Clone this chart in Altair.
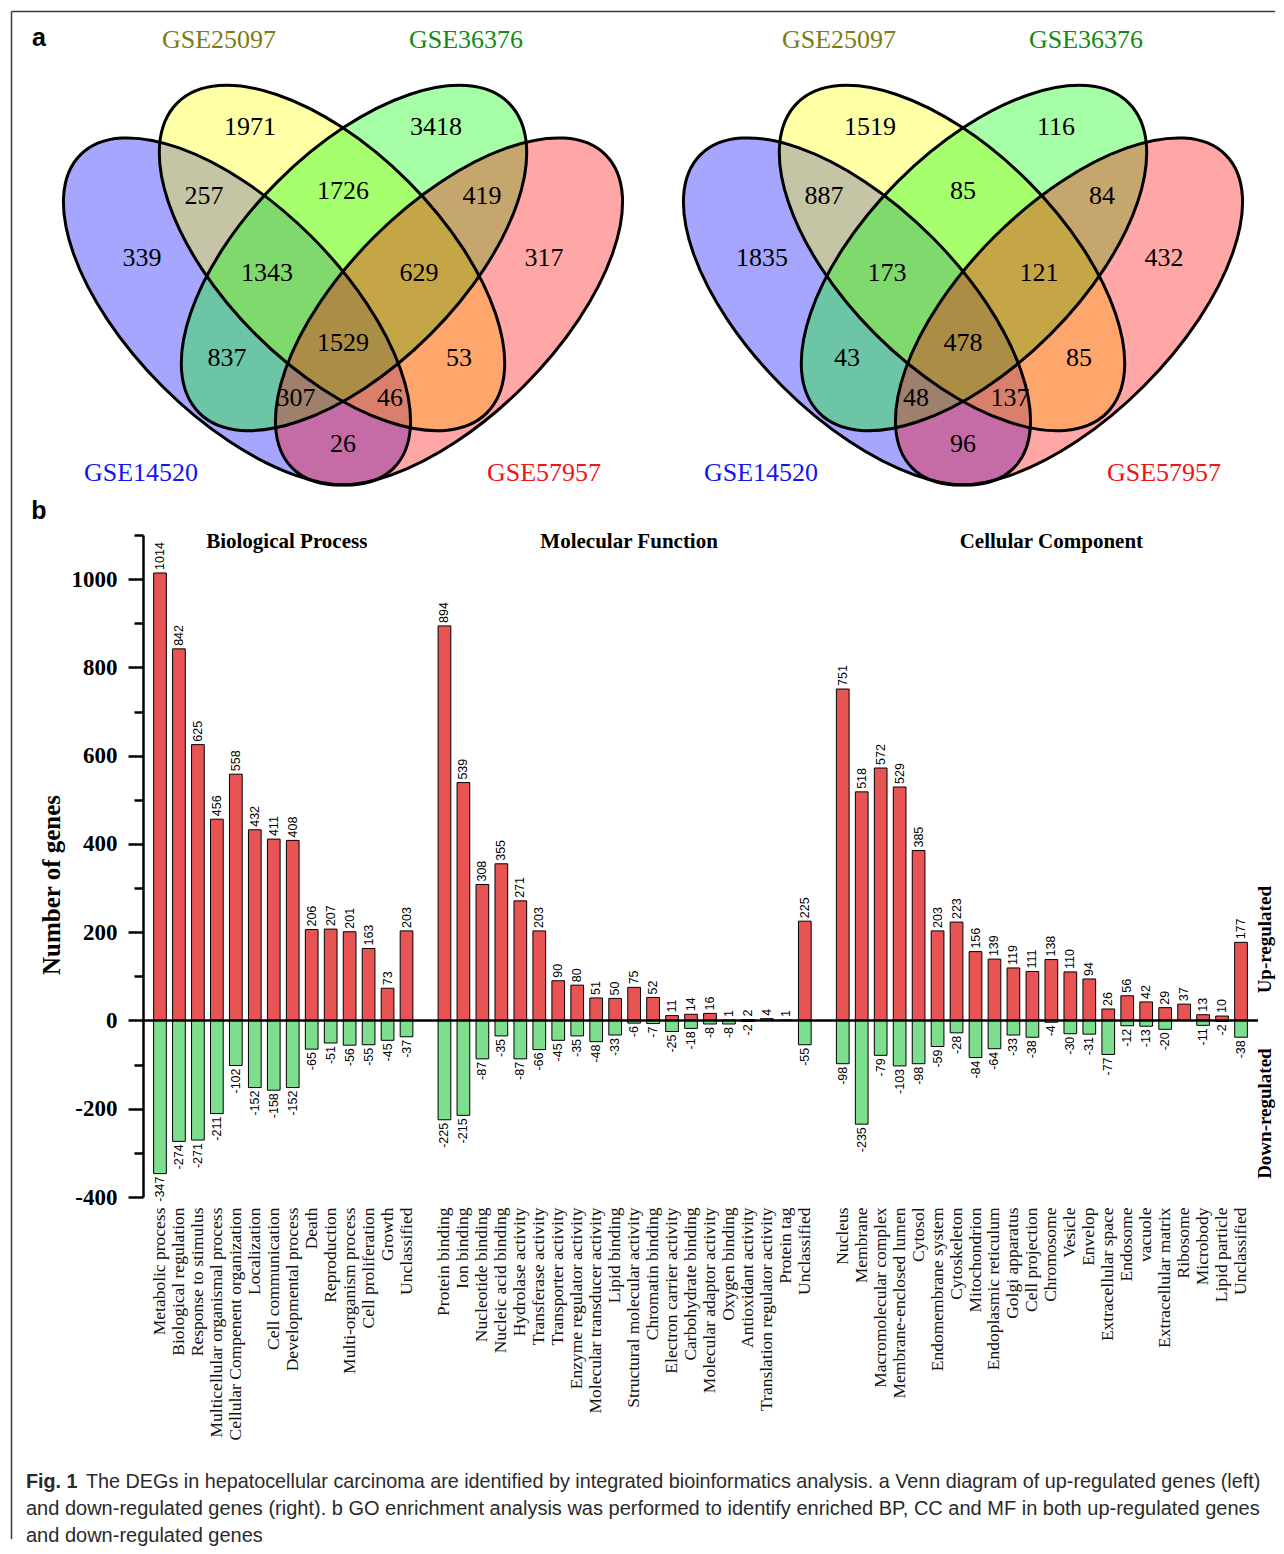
import altair as alt
import pandas as pd

# ---------------- panel a : Venn diagrams ----------------
set_names = ["GSE14520", "GSE25097", "GSE36376", "GSE57957"]
set_label_colors = ["#1414f0", "#7c7c14", "#128a12", "#f01414"]
set_fill_colors = ["#0000ff", "#ffff00", "#00ff00", "#ff0000"]

# regions (A=GSE14520, B=GSE25097, C=GSE36376, D=GSE57957)
region_sets = ["B", "C", "AB", "BC", "CD", "A", "ABC", "BCD", "D",
               "AC", "ABCD", "BD", "ACD", "ABD", "AD"]
up_counts = [1971, 3418, 257, 1726, 419, 339, 1343, 629, 317,
             837, 1529, 53, 307, 46, 26]
down_counts = [1519, 116, 887, 85, 84, 1835, 173, 121, 432,
               43, 478, 85, 48, 137, 96]

# Venn geometry (unit-square coordinates of one diagram)
ell_u = [0.3304, 0.4824, 0.5176, 0.6696]
ell_v = [0.4664, 0.552, 0.552, 0.4664]
ell_a = [0.3544, 0.3504, 0.3504, 0.3544]
ell_b = [0.169, 0.1728, 0.1728, 0.169]
ell_angle = [45, 45, 135, 135]
reg_u = [0.3512, 0.6488, 0.2776, 0.5, 0.7224, 0.1784, 0.3784, 0.6216, 0.8216,
         0.3144, 0.5, 0.6856, 0.4248, 0.5752, 0.5]
reg_v = [0.7616, 0.7616, 0.6512, 0.6592, 0.6512, 0.552, 0.528, 0.528, 0.552,
         0.392, 0.416, 0.392, 0.328, 0.328, 0.2544]
set_lab_u = [0.1768, 0.3016, 0.6968, 0.8216]
set_lab_v = [0.208, 0.9008, 0.9008, 0.208]
panel_shift = [0.0, 0.992]   # second diagram sits one diagram-width to the right

# ---------------- panel b : GO enrichment ----------------
bp_names = ["Metabolic process", "Biological regulation", "Response to stimulus",
            "Multicellular organismal process", "Cellular Compenent organization",
            "Localization", "Cell communication", "Developmental process", "Death",
            "Reproduction", "Multi-organism process", "Cell proliferation", "Growth",
            "Unclassified"]
bp_up = [1014, 842, 625, 456, 558, 432, 411, 408, 206, 207, 201, 163, 73, 203]
bp_down = [-347, -274, -271, -211, -102, -152, -158, -152, -65, -51, -56, -55, -45, -37]

mf_names = ["Protein binding", "Ion binding", "Nucleotide binding", "Nucleic acid binding",
            "Hydrolase activity", "Transferase activity", "Transporter activity",
            "Enzyme regulator activity", "Molecular transducer activity", "Lipid binding",
            "Structural molecular activity", "Chromatin binding", "Electron carrier activity",
            "Carbohydrate binding", "Molecular adaptor activity", "Oxygen binding",
            "Antioxidant activity", "Translation regulator activity", "Protein tag",
            "Unclassified"]
mf_up = [894, 539, 308, 355, 271, 203, 90, 80, 51, 50, 75, 52, 11, 14, 16, 1, 2, 4, 1, 225]
mf_down = [-225, -215, -87, -35, -87, -66, -45, -35, -48, -33, -6, -7, -25, -18, -8, -8, -2, 0, 0, -55]

cc_names = ["Nucleus", "Membrane", "Macromolecular complex", "Membrane-enclosed lumen",
            "Cytosol", "Endomembrane system", "Cytoskeleton", "Mitochondrion",
            "Endoplasmic reticulum", "Golgi apparatus", "Cell projection", "Chromosome",
            "Vesicle", "Envelop", "Extracellular space", "Endosome", "vacuole",
            "Extracellular matrix", "Ribosome", "Microbody", "Lipid particle", "Unclassified"]
cc_up = [751, 518, 572, 529, 385, 203, 223, 156, 139, 119, 111, 138, 110, 94, 26, 56, 42,
         29, 37, 13, 10, 177]
cc_down = [-98, -235, -79, -103, -98, -59, -28, -84, -64, -33, -38, -4, -30, -31, -77, -12,
           -13, -20, 0, -11, -2, -38]

group_titles = ["Biological Process", "Molecular Function", "Cellular Component"]
side_labels = ["Up-regulated", "Down-regulated"]

caption_fig = "Fig. 1"
caption_lines = [
    "The DEGs in hepatocellular carcinoma are identified by integrated bioinformatics analysis. a Venn diagram of up-regulated genes (left)",
    "and down-regulated genes (right). b GO enrichment analysis was performed to identify enriched BP, CC and MF in both up-regulated genes",
    "and down-regulated genes",
]

RED = "#e85454"
GREEN = "#7ddf8e"
SERIF = "Liberation Serif"
SANS = "Liberation Sans"

# ---------------- Venn construction ----------------
S = 625.0
VENN_W, VENN_H = 1240, 513.5
U_DOM = [-0.012, -0.012 + VENN_W / S]
V_DOM = [0.1096, 0.1096 + VENN_H / S]


def ellipse_path(r):
    k = 0.5523
    kr = k * r
    return (f"M1,0 C1,{kr:.4f} {k},{r:.4f} 0,{r:.4f} "
            f"C{-k},{r:.4f} -1,{kr:.4f} -1,0 "
            f"C-1,{-kr:.4f} {-k},{-r:.4f} 0,{-r:.4f} "
            f"C{k},{-r:.4f} 1,{-kr:.4f} 1,0 Z")


ell_rows, reg_rows, set_rows = [], [], []
for p, (shift, counts) in enumerate(zip(panel_shift, [up_counts, down_counts])):
    for i in range(4):
        ell_rows.append({"idx": p * 4 + i, "u": ell_u[i] + shift, "v": ell_v[i],
                         "path": ellipse_path(ell_b[i] / ell_a[i]),
                         "size": (2 * ell_a[i] * S) ** 2, "angle": ell_angle[i],
                         "fill": set_fill_colors[i]})
        set_rows.append({"u": set_lab_u[i] + shift, "v": set_lab_v[i],
                         "name": set_names[i], "col": set_label_colors[i]})
    for j in range(len(region_sets)):
        reg_rows.append({"u": reg_u[j] + shift, "v": reg_v[j], "n": str(counts[j])})
ell_df = pd.DataFrame(ell_rows)
reg_df = pd.DataFrame(reg_rows)
set_df = pd.DataFrame(set_rows)

vx = alt.X("u:Q", scale=alt.Scale(domain=U_DOM, nice=False, zero=False), axis=None)
vy = alt.Y("v:Q", scale=alt.Scale(domain=V_DOM, nice=False, zero=False), axis=None)
ell_common = dict(
    shape=alt.Shape("path:N", scale=None),
    size=alt.Size("size:Q", scale=None),
    angle=alt.Angle("angle:Q", scale=None),
    order=alt.Order("idx:Q"),
)
fills = alt.Chart(ell_df).mark_point(filled=True, opacity=0.35, strokeWidth=0).encode(
    x=vx, y=vy, color=alt.Color("fill:N", scale=None), **ell_common)
strokes = alt.Chart(ell_df).mark_point(filled=False, opacity=1, strokeWidth=3).encode(
    x=vx, y=vy, color=alt.value("black"), **ell_common)
nums = alt.Chart(reg_df).mark_text(font=SERIF, fontSize=26, color="black",
                                   align="center", baseline="middle").encode(
    x=vx, y=vy, text="n:N")
names = alt.Chart(set_df).mark_text(font=SERIF, fontSize=26, align="center",
                                    baseline="middle").encode(
    x=vx, y=vy, text="name:N", color=alt.Color("col:N", scale=None))
letters_df = pd.DataFrame({"u": [0.0136, 0.0136], "v": [0.904, 0.1472], "t": ["a", "b"]})
letters = alt.Chart(letters_df).mark_text(font=SANS, fontSize=25, fontWeight="bold",
                                          color="black", align="center",
                                          baseline="middle").encode(
    x=vx, y=vy, text="t:N")
one = pd.DataFrame({"d": [0]})
frame_top = alt.Chart(one).mark_rule(color="#3a3a3a", strokeWidth=1.5).encode(
    x=alt.value(-11.5), x2=alt.value(1252), y=alt.value(-9.5))
frame_left = alt.Chart(one).mark_rule(color="#3a3a3a", strokeWidth=1.5).encode(
    x=alt.value(-11.5), y=alt.value(-9.5), y2=alt.value(1518))
venn = alt.layer(fills, strokes, nums, names, letters, frame_top, frame_left).properties(
    width=VENN_W, height=VENN_H)

# ---------------- bar chart ----------------
rows = []
x_domain = []
groups = [("BP", bp_names, bp_up, bp_down), ("MF", mf_names, mf_up, mf_down),
          ("CC", cc_names, cc_up, cc_down)]
for gi, (g, gnames, ups, downs) in enumerate(groups):
    if gi > 0:
        x_domain.append(f"gap{gi}|")
    for n, uval, dval in zip(gnames, ups, downs):
        key = f"{g}|{n}"
        x_domain.append(key)
        rows.append({"key": key, "value": uval, "dir": "up", "lab": str(uval)})
        rows.append({"key": key, "value": dval, "dir": "down", "lab": str(dval)})
bars_df = pd.DataFrame(rows)
bars_df = bars_df[bars_df["value"] != 0]

BAR_W, BAR_H = 1235, 662
AXIS_X = 120

x_enc = alt.X("key:N", sort=None, title=None,
              scale=alt.Scale(domain=x_domain, range=[AXIS_X, BAR_W],
                              paddingInner=0.33, paddingOuter=0.56),
              axis=alt.Axis(labelAngle=270, labelFont=SERIF, labelFontSize=17.5,
                            labelColor="#111111", labelPadding=10, ticks=False, domain=False,
                            labelLimit=400, labelOverlap=False,
                            labelExpr="split(datum.label, '|')[1]"))
y_enc = alt.Y("value:Q",
              scale=alt.Scale(domain=[-400, 1100], nice=False, zero=False),
              axis=alt.Axis(values=list(range(-400, 1101, 100)), offset=-AXIS_X,
                            labelExpr="datum.value % 200 === 0 ? '' + datum.value : ''",
                            tickSize={"condition": {"test": "datum.value % 200 === 0",
                                                    "value": 15}, "value": 9},
                            tickWidth=2.5, tickColor="black", domainWidth=2.5,
                            domainColor="black", grid=False, labelFont=SERIF,
                            labelFontWeight="bold", labelFontSize=23, labelColor="black",
                            labelPadding=11, labelOverlap=False,
                            title="Number of genes", titleFont=SERIF, titleFontSize=25,
                            titleFontWeight="bold", titleColor="black", titleAngle=270,
                            titleX=-92, titleY=349.5, titleAlign="center",
                            titleBaseline="middle"))

bars = alt.Chart(bars_df).mark_bar(stroke="black", strokeWidth=1).encode(
    x=x_enc, y=y_enc, y2=alt.datum(0),
    color=alt.Color("dir:N", scale=alt.Scale(domain=["up", "down"], range=[RED, GREEN]),
                    legend=None))
up_lab = alt.Chart(bars_df[bars_df["dir"] == "up"]).mark_text(
    angle=270, align="left", baseline="middle", dx=3, font=SANS, fontSize=12.5,
    color="black").encode(x=x_enc, y=y_enc, text="lab:N")
down_lab = alt.Chart(bars_df[bars_df["dir"] == "down"]).mark_text(
    angle=270, align="right", baseline="middle", dx=-3, font=SANS, fontSize=12.5,
    color="black").encode(x=x_enc, y=y_enc, text="lab:N")

title_layers = []
title_anchor = ["BP|Developmental process", "MF|Structural molecular activity", "CC|Chromosome"]
title_dx = [-6, -5, 0]
for t, k, dx in zip(group_titles, title_anchor, title_dx):
    tdf = pd.DataFrame({"key": [k], "value": [1085], "lab": [t]})
    title_layers.append(
        alt.Chart(tdf).mark_text(font=SERIF, fontSize=21, fontWeight="bold", color="black",
                                 align="center", baseline="middle", dx=dx).encode(
            x=x_enc, y=y_enc, text="lab:N"))

side_df = pd.DataFrame({"value": [183, -211], "lab": side_labels})
side = alt.Chart(side_df).mark_text(font=SERIF, fontSize=19, fontWeight="bold",
                                    color="black", angle=270, align="center",
                                    baseline="middle").encode(
    x=alt.value(BAR_W + 7), y=y_enc, text="lab:N")

zero = alt.Chart(one).mark_rule(color="black", strokeWidth=2.5).encode(
    x=alt.value(AXIS_X), x2=alt.value(BAR_W), y=alt.datum(0))

bar_chart = alt.layer(bars, up_lab, down_lab, *title_layers, side, zero).properties(
    width=BAR_W, height=BAR_H)

# ---------------- caption ----------------
CAP_H = 340
CAP_FS = 20.0
cap_y = alt.Y("line:Q", scale=alt.Scale(domain=[-10.574, 2.019], reverse=True,
                                        nice=False, zero=False), axis=None)
cap_df = pd.DataFrame({"line": [0, 1, 2], "txt": caption_lines})
fig_df = pd.DataFrame({"line": [0], "txt": [caption_fig]})
cap_fig = alt.Chart(fig_df).mark_text(font=SANS, fontSize=19.7, fontWeight="bold",
                                      color="#2a2a2a", align="left",
                                      baseline="middle").encode(
    x=alt.value(3), y=cap_y, text="txt:N")
cap_first = alt.Chart(cap_df[cap_df["line"] == 0]).mark_text(
    font=SANS, fontSize=19.8, color="#2a2a2a", align="left",
    baseline="middle").encode(
    x=alt.value(63), y=cap_y, text="txt:N")
cap_rest = alt.Chart(cap_df[cap_df["line"] > 0]).mark_text(
    font=SANS, fontSize=CAP_FS, color="#2a2a2a", align="left", baseline="middle").encode(
    x=alt.value(3), y=cap_y, text="txt:N")
caption = alt.layer(cap_fig, cap_first, cap_rest).properties(width=1240, height=CAP_H)

chart = alt.vconcat(venn, bar_chart, caption, spacing=0, bounds="flush").properties(
    padding={"left": 2, "top": 2, "right": 0, "bottom": 0}, background="white"
).configure_view(strokeWidth=0)

chart.save("out.html", embed_options={"renderer": "svg", "actions": False})
